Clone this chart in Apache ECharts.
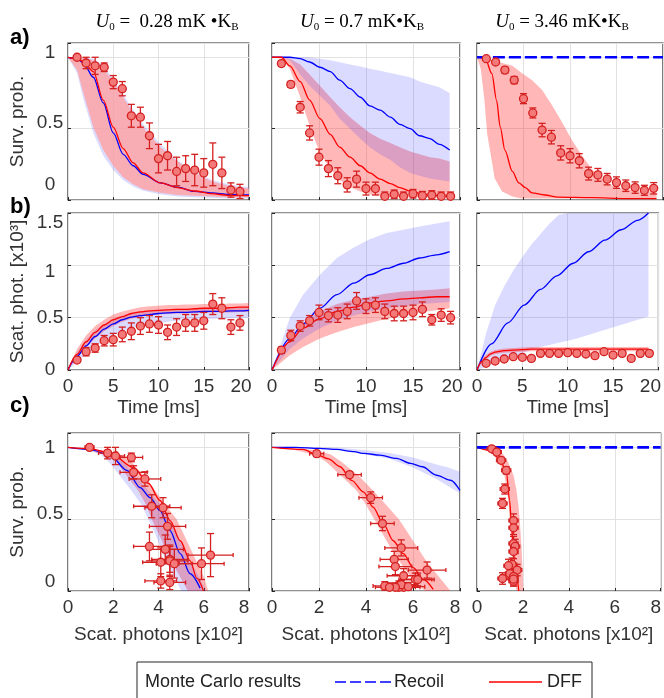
<!DOCTYPE html>
<html>
<head>
<meta charset="utf-8">
<script src="https://cdn.jsdelivr.net/npm/echarts@6/dist/echarts.min.js"></script>
<style>
  html, body { margin: 0; padding: 0; background: #fff; }
  #chart { width: 664px; height: 698px; }
</style>
</head>
<body>
<div id="chart"></div>
<script>
// ---- experimental points (t = 1..19 ms) ----
const ptsT = [1, 2, 3, 4, 5, 6, 7, 8, 9, 10, 11, 12, 13, 14, 15, 16, 17, 18, 19];

// row a: survival probability
const a1Pts = [1.0, 0.96, 0.94, 0.93, 0.826, 0.78, 0.59, 0.58, 0.45, 0.29, 0.31, 0.20, 0.22, 0.21, 0.19, 0.25, 0.19, 0.07, 0.06];
const a1Err = [0.01, 0.04, 0.06, 0.03, 0.046, 0.05, 0.08, 0.07, 0.09, 0.1, 0.1, 0.1, 0.09, 0.11, 0.1, 0.15, 0.11, 0.05, 0.05];
const a2Pts = [0.956, 0.81, 0.65, 0.47, 0.30, 0.22, 0.17, 0.106, 0.146, 0.08, 0.08, 0.026, 0.04, 0.026, 0.044, 0.03, 0.035, 0.026, 0.026];
const a2Err = [0.02, 0.02, 0.04, 0.05, 0.056, 0.056, 0.056, 0.05, 0.056, 0.045, 0.045, 0.03, 0.03, 0.03, 0.03, 0.03, 0.03, 0.03, 0.03];
const a3Pts = [0.99, 0.967, 0.91, 0.84, 0.71, 0.61, 0.49, 0.44, 0.33, 0.31, 0.275, 0.185, 0.176, 0.146, 0.122, 0.1, 0.087, 0.068, 0.082];
const a3Err = [0.01, 0.015, 0.02, 0.025, 0.035, 0.035, 0.047, 0.047, 0.05, 0.05, 0.05, 0.045, 0.045, 0.04, 0.04, 0.04, 0.04, 0.035, 0.04];

// row b: scattered photons [x10^3]
const b1Pts = [0.095, 0.175, 0.21, 0.28, 0.29, 0.34, 0.37, 0.42, 0.44, 0.43, 0.36, 0.41, 0.45, 0.45, 0.47, 0.63, 0.59, 0.41, 0.45];
const b1Err = [0.02, 0.04, 0.04, 0.05, 0.06, 0.07, 0.08, 0.08, 0.08, 0.08, 0.07, 0.08, 0.08, 0.08, 0.08, 0.1, 0.1, 0.07, 0.07];
const b2Pts = [0.19, 0.33, 0.42, 0.47, 0.55, 0.52, 0.525, 0.56, 0.66, 0.61, 0.62, 0.56, 0.54, 0.54, 0.55, 0.58, 0.48, 0.525, 0.50];
const b2Err = [0.03, 0.05, 0.05, 0.05, 0.07, 0.06, 0.07, 0.07, 0.08, 0.07, 0.07, 0.07, 0.07, 0.07, 0.07, 0.07, 0.05, 0.06, 0.06];
const b3Pts = [0.064, 0.086, 0.105, 0.127, 0.121, 0.111, 0.159, 0.159, 0.159, 0.166, 0.159, 0.153, 0.137, 0.175, 0.143, 0.159, 0.111, 0.159, 0.159];
const b3Err = [0.02, 0.02, 0.02, 0.02, 0.02, 0.02, 0.02, 0.02, 0.02, 0.02, 0.02, 0.02, 0.02, 0.02, 0.02, 0.02, 0.02, 0.02, 0.02];

// ---- Monte Carlo, row a ----
const a1T = [0, 1, 1.7, 2.8, 3.9, 5, 6.1, 7.2, 8.3, 10.2, 12.1, 14, 15.9, 17.7, 20];
const a1Dff = [1, 0.99, 0.97, 0.90, 0.70, 0.51, 0.36, 0.26, 0.19, 0.12, 0.087, 0.063, 0.044, 0.033, 0.03];
const a1Recoil = [1, 0.99, 0.96, 0.86, 0.68, 0.47, 0.32, 0.24, 0.18, 0.12, 0.09, 0.06, 0.05, 0.04, 0.035];
const a1DffHi = [1, 1, 0.995, 0.98, 0.92, 0.83, 0.72, 0.61, 0.51, 0.37, 0.27, 0.19, 0.13, 0.10, 0.08];
const a1DffLo = [1, 0.91, 0.75, 0.51, 0.35, 0.24, 0.16, 0.11, 0.075, 0.05, 0.035, 0.03, 0.025, 0.02, 0.02];
const a1RecHi = [1, 1, 1, 0.99, 0.94, 0.85, 0.74, 0.63, 0.53, 0.39, 0.28, 0.2, 0.14, 0.11, 0.09];
const a1RecLo = [1, 0.89, 0.71, 0.47, 0.31, 0.21, 0.14, 0.095, 0.065, 0.04, 0.025, 0.02, 0.015, 0.01, 0.01];

const a2T = [0, 1, 1.9, 3, 4, 5.1, 6.2, 7.2, 8.3, 9.4, 10.4, 11.5, 12.6, 13.6, 14.7, 15.7, 16.8, 17.8, 18.9];
const a2Dff = [1, 1, 0.94, 0.83, 0.70, 0.57, 0.46, 0.37, 0.30, 0.24, 0.19, 0.146, 0.115, 0.087, 0.063, 0.047, 0.035, 0.03, 0.025];
const a2Recoil = [1, 1, 1, 0.99, 0.967, 0.93, 0.90, 0.84, 0.78, 0.72, 0.66, 0.63, 0.58, 0.53, 0.50, 0.45, 0.43, 0.39, 0.35];
const a2RecHi = [1, 1, 1, 1, 1, 0.99, 0.98, 0.965, 0.95, 0.935, 0.92, 0.905, 0.89, 0.875, 0.86, 0.83, 0.81, 0.79, 0.75];
const a2RecLo = [1, 1, 0.98, 0.88, 0.80, 0.73, 0.66, 0.57, 0.50, 0.43, 0.37, 0.32, 0.28, 0.23, 0.19, 0.17, 0.15, 0.14, 0.13];
const a2DffHi = [1, 1, 0.99, 0.95, 0.88, 0.80, 0.72, 0.65, 0.58, 0.52, 0.47, 0.43, 0.40, 0.37, 0.34, 0.32, 0.30, 0.29, 0.27];
const a2DffLo = [1, 0.99, 0.92, 0.72, 0.52, 0.33, 0.22, 0.14, 0.09, 0.06, 0.04, 0.03, 0.02, 0.02, 0.02, 0.02, 0.02, 0.02, 0.02];

const a3T = [0, 0.2, 0.9, 1.6, 2.1, 2.5, 3.0, 3.8, 4.5, 5.2, 5.9, 7.3, 8.7, 12.3, 16, 19.3];
const a3Dff = [1, 1, 0.99, 0.885, 0.70, 0.51, 0.35, 0.2, 0.12, 0.087, 0.05, 0.035, 0.02, 0.016, 0.01, 0.01];
const a3BandT = [0, 0.4, 0.8, 1.1, 1.6, 1.9, 2.7, 3.8, 4.8, 5.9, 7.0, 8.0, 9.1, 10.2, 11.3, 12.3, 13.4, 14.5, 15.6, 16.6, 17.7, 18.8, 19.3];
const a3DffHi = [1, 1, 1, 1, 0.98, 0.975, 0.96, 0.94, 0.89, 0.84, 0.77, 0.67, 0.55, 0.42, 0.31, 0.22, 0.15, 0.10, 0.08, 0.07, 0.06, 0.06, 0.06];
const a3DffLo = [1, 0.92, 0.70, 0.46, 0.27, 0.15, 0.06, 0.025, 0.01, 0.01, 0.01, 0.01, 0.01, 0.01, 0.01, 0.01, 0.01, 0.01, 0.01, 0.01, 0.01, 0.01, 0.01];
const flatT = [0, 20];
const flatOne = [1, 1];

// ---- Monte Carlo, row b ----
const b1T = [0, 1, 2, 3, 4, 5, 6, 7, 8, 9, 10, 11, 12, 13, 14, 15, 16, 17, 18, 19, 20];
const b1Dff = [0, 0.15, 0.27, 0.36, 0.43, 0.48, 0.51, 0.54, 0.555, 0.565, 0.57, 0.575, 0.58, 0.58, 0.585, 0.59, 0.59, 0.59, 0.595, 0.6, 0.6];
const b1Recoil = [0, 0.13, 0.23, 0.32, 0.39, 0.44, 0.48, 0.505, 0.52, 0.53, 0.54, 0.545, 0.55, 0.55, 0.555, 0.56, 0.56, 0.56, 0.565, 0.565, 0.57];
const b1DffHi = [0, 0.2, 0.33, 0.42, 0.48, 0.53, 0.56, 0.58, 0.6, 0.61, 0.615, 0.62, 0.62, 0.625, 0.625, 0.63, 0.63, 0.63, 0.635, 0.635, 0.64];
const b1DffLo = [0, 0.12, 0.22, 0.3, 0.37, 0.42, 0.46, 0.49, 0.51, 0.52, 0.53, 0.535, 0.54, 0.54, 0.545, 0.545, 0.55, 0.55, 0.55, 0.555, 0.555];
const b1RecHi = [0, 0.17, 0.29, 0.38, 0.44, 0.49, 0.52, 0.545, 0.56, 0.57, 0.575, 0.58, 0.58, 0.585, 0.585, 0.59, 0.59, 0.59, 0.595, 0.595, 0.6];
const b1RecLo = [0, 0.08, 0.15, 0.22, 0.28, 0.33, 0.37, 0.40, 0.42, 0.44, 0.45, 0.46, 0.47, 0.475, 0.48, 0.485, 0.49, 0.49, 0.495, 0.5, 0.5];

const b2T = [0, 1.9, 3.3, 5.1, 6.9, 8.7, 10.4, 12.2, 14, 15.7, 17.5, 18.9];
const b2Dff = [0, 0.27, 0.40, 0.49, 0.56, 0.60, 0.64, 0.66, 0.68, 0.69, 0.70, 0.70];
const b2Recoil = [0, 0.30, 0.44, 0.59, 0.72, 0.83, 0.91, 0.97, 1.02, 1.07, 1.10, 1.13];
const b2RecHi = [0, 0.5, 0.72, 0.91, 1.07, 1.17, 1.25, 1.31, 1.34, 1.37, 1.40, 1.42];
const b2RecLo = [0, 0.2, 0.3, 0.4, 0.47, 0.52, 0.56, 0.59, 0.61, 0.63, 0.64, 0.65];
const b2DffHi = [0, 0.30, 0.45, 0.56, 0.63, 0.67, 0.70, 0.73, 0.75, 0.76, 0.77, 0.78];
const b2DffLo = [0, 0.14, 0.22, 0.3, 0.36, 0.41, 0.45, 0.49, 0.52, 0.55, 0.57, 0.59];

const b3T = [0, 1.6, 3.4, 5.2, 7.0, 8.8, 10.6, 12.3, 14.1, 15.9, 17.7, 18.9];
const b3Recoil = [0, 0.25, 0.45, 0.62, 0.77, 0.9, 1.02, 1.13, 1.24, 1.34, 1.43, 1.5];
const b3BandT = [0, 1, 2, 3, 4, 5, 6, 7, 8, 9, 10, 11, 18.9];
const b3RecHi = [0, 0.35, 0.62, 0.8, 0.95, 1.08, 1.2, 1.3, 1.4, 1.48, 1.57, 1.65, 2.3];
const b3RecLo = [0, 0.03, 0.07, 0.1, 0.13, 0.16, 0.19, 0.22, 0.24, 0.26, 0.28, 0.30, 0.51];
const b3DffT = [0, 0.5, 1, 1.5, 2, 3, 4, 5, 6, 18.9];
const b3Dff = [0, 0.08, 0.12, 0.155, 0.17, 0.185, 0.19, 0.195, 0.2, 0.2];
const b3DffHi = [0, 0.1, 0.145, 0.175, 0.19, 0.205, 0.21, 0.215, 0.22, 0.22];
const b3DffLo = [0, 0.06, 0.1, 0.135, 0.15, 0.165, 0.17, 0.175, 0.18, 0.18];

// ---- Monte Carlo, row c (survival vs scattered photons [x10^2]) ----
const cLevels = [1.0, 0.98, 0.95, 0.9, 0.8, 0.7, 0.6, 0.5, 0.4, 0.3, 0.2, 0.1, 0.0];
const c1RecoilX = [0, 0.97, 1.86, 2.6, 3.19, 3.63, 4.07, 4.51, 4.96, 5.4, 5.84];
const c1RecoilY = [1, 0.986, 0.946, 0.84, 0.72, 0.65, 0.56, 0.42, 0.26, 0.12, 0.02];
const c1DffX = [0, 1.0, 1.86, 2.89, 3.55, 4.07, 4.51, 4.96, 5.4, 5.69, 5.99];
const c1DffY = [1, 0.99, 0.96, 0.86, 0.75, 0.63, 0.49, 0.35, 0.21, 0.09, 0];
const c1RecLo = [0, 0.9, 1.45, 1.8, 2.3, 2.8, 3.25, 3.55, 3.85, 4.1, 4.35, 4.7, 5.0];
const c1RecHi = [0.3, 1.5, 2.1, 2.45, 3.0, 3.55, 4.1, 4.5, 4.8, 5.1, 5.4, 5.8, 6.1];
const c1DffLo = [0, 0.9, 1.6, 2.15, 2.6, 3.1, 3.45, 3.7, 4.0, 4.3, 4.6, 4.95, 5.3];
const c1DffHi = [0.3, 1.5, 2.3, 2.8, 3.35, 3.85, 4.3, 4.8, 5.1, 5.4, 5.7, 6.0, 6.2];

const c2RecoilX = [0, 1, 2, 2.75, 3.5, 3.9, 4.6, 5.3, 5.9, 6.4, 7.0, 7.6, 8.0];
const c2RecoilY = [1, 1, 0.993, 0.986, 0.97, 0.958, 0.946, 0.923, 0.888, 0.865, 0.806, 0.771, 0.70];
const c2BandX = [0, 2, 3, 4, 5, 6, 7, 7.5, 8];
const c2RecLo = [1, 0.99, 0.98, 0.95, 0.92, 0.86, 0.78, 0.73, 0.68];
const c2RecHi = [1, 1.0, 0.995, 0.98, 0.96, 0.93, 0.88, 0.86, 0.83];
const c2DffX = [0, 1.33, 1.9, 2.4, 2.9, 3.39, 3.89, 4.3, 4.74, 5.16, 5.59, 6.01, 6.44, 6.86];
const c2DffY = [1, 0.986, 0.95, 0.92, 0.865, 0.77, 0.69, 0.584, 0.467, 0.35, 0.26, 0.163, 0.08, 0.012];
const c2DffLo = [0, 1.0, 1.8, 2.3, 2.95, 3.6, 4.0, 4.35, 4.7, 5.05, 5.45, 5.9, 6.5];
const c2DffHi = [0.5, 1.9, 2.5, 2.95, 3.7, 4.3, 4.85, 5.4, 5.8, 6.2, 6.6, 7.1, 7.6];

const c3DffX = [0, 0.56, 0.99, 1.28, 1.42, 1.49, 1.56, 1.63, 1.73, 1.82];
const c3DffY = [1, 0.98, 0.92, 0.83, 0.63, 0.49, 0.35, 0.21, 0.09, 0.0];
const c3DffLo = [0, 0.4, 0.7, 0.95, 1.2, 1.3, 1.38, 1.42, 1.47, 1.52, 1.57, 1.64, 1.72];
const c3DffHi = [0.6, 0.95, 1.15, 1.35, 1.6, 1.72, 1.8, 1.86, 1.9, 1.94, 1.97, 2.0, 2.02];
const flatX = [0, 8];

// ---- styling ----
const FONT = 'Liberation Sans, Arial, sans-serif';
const TXT = '#333';
const BLUE = '#0000ff', RED = '#ff0000', ERR = '#d42020', MARK = '#f47a7a';
const BLUE_BAND = 'rgba(40,40,255,0.17)';
const RED_BAND = 'rgba(255,30,30,0.32)';
const RED_BAND_TOP = 'rgba(255,160,160,0.8)';

const colLeft = [68, 272, 477], colWidth = [181, 188, 186];
const rowTop = [43, 213, 433], rowHeight = [157, 157, 158];

const chart = echarts.init(document.getElementById('chart'));
const series = [];

function clampPts(pts, r) {
  return pts.map(p => [Math.min(Math.max(p[0], r.x), r.x + r.width), Math.min(Math.max(p[1], r.y), r.y + r.height)]);
}
function band(g, pts, color) {
  series.push({
    type: 'custom', xAxisIndex: g, yAxisIndex: g, silent: true, clip: true, z: 1,
    data: pts,
    renderItem: (params, api) => {
      if (params.dataIndex !== 0) return null;
      const poly = clampPts(pts.map(p => api.coord(p)), params.coordSys);
      return { type: 'polygon', shape: { points: poly }, style: { fill: color } };
    }
  });
}
function bandT(g, t, lo, hi, color) {
  band(g, t.map((x, i) => [x, lo[i]]).concat(t.map((x, i) => [x, hi[i]]).reverse()), color);
}
function bandY(g, lv, xlo, xhi, color) {
  band(g, lv.map((y, i) => [xlo[i], y]).concat(lv.map((y, i) => [xhi[i], y]).reverse()), color);
}
function curve(g, xs, ys, color, dashed) {
  series.push({
    type: 'line', xAxisIndex: g, yAxisIndex: g, silent: true, z: 3,
    data: xs.map((x, i) => [x, ys[i]]),
    symbol: 'none', smooth: 0.3, smoothMonotone: 'x',
    lineStyle: dashed ? { color, width: 2.6, type: [12, 4] } : { color, width: 1.3 }
  });
}
function seg(x1, y1, x2, y2) {
  return { type: 'line', shape: { x1, y1, x2, y2 }, style: { stroke: ERR, lineWidth: 1.3 } };
}
function points(g, xs, ys, ey, ex) {
  series.push({
    type: 'custom', xAxisIndex: g, yAxisIndex: g, silent: true, clip: true, z: 4,
    encode: { x: 0, y: 1 },
    data: xs.map((x, i) => [x, ys[i], ey ? ey[i] : 0, ex ? ex[i] : 0]),
    renderItem: (params, api) => {
      const x = api.value(0), y = api.value(1), dy = api.value(2), dx = api.value(3);
      const ch = [];
      if (dy > 0) {
        const a = api.coord([x, y - dy]), b = api.coord([x, y + dy]);
        ch.push(seg(a[0], a[1], b[0], b[1]), seg(a[0] - 3.5, a[1], a[0] + 3.5, a[1]), seg(b[0] - 3.5, b[1], b[0] + 3.5, b[1]));
      }
      if (dx > 0) {
        const a = api.coord([x - dx, y]), b = api.coord([x + dx, y]);
        ch.push(seg(a[0], a[1], b[0], b[1]), seg(a[0], a[1] - 2, a[0], a[1] + 2), seg(b[0], b[1] - 2, b[0], b[1] + 2));
      }
      return { type: 'group', children: ch };
    }
  });
  series.push({
    type: 'scatter', xAxisIndex: g, yAxisIndex: g, silent: true, z: 5,
    data: xs.map((x, i) => [x, ys[i]]),
    symbol: 'circle', symbolSize: 8,
    itemStyle: { color: MARK, borderColor: ERR, borderWidth: 1.3, opacity: 1 }
  });
}

// row a
bandT(0, a1T, a1RecLo, a1RecHi, BLUE_BAND);
bandT(0, a1T, a1DffLo, a1DffHi, RED_BAND_TOP);
curve(0, a1T, a1Recoil, BLUE);
curve(0, a1T, a1Dff, RED);
points(0, ptsT, a1Pts, a1Err);

bandT(1, a2T, a2DffLo, a2DffHi, RED_BAND);
bandT(1, a2T, a2RecLo, a2RecHi, BLUE_BAND);
curve(1, a2T, a2Recoil, BLUE);
curve(1, a2T, a2Dff, RED);
points(1, ptsT, a2Pts, a2Err);

bandT(2, a3BandT, a3DffLo, a3DffHi, RED_BAND);
curve(2, a3T, a3Dff, RED);
curve(2, flatT, flatOne, BLUE, true);
points(2, ptsT, a3Pts, a3Err);

// row b
bandT(3, b1T, b1RecLo, b1RecHi, BLUE_BAND);
bandT(3, b1T, b1DffLo, b1DffHi, RED_BAND);
curve(3, b1T, b1Recoil, BLUE);
curve(3, b1T, b1Dff, RED);
points(3, ptsT, b1Pts, b1Err);

bandT(4, b2T, b2DffLo, b2DffHi, RED_BAND);
bandT(4, b2T, b2RecLo, b2RecHi, BLUE_BAND);
curve(4, b2T, b2Recoil, BLUE);
curve(4, b2T, b2Dff, RED);
points(4, ptsT, b2Pts, b2Err);

bandT(5, b3BandT, b3RecLo, b3RecHi, BLUE_BAND);
bandT(5, b3DffT, b3DffLo, b3DffHi, RED_BAND);
curve(5, b3T, b3Recoil, BLUE);
curve(5, b3DffT, b3Dff, RED);
points(5, ptsT, b3Pts, b3Err);

// row c: survival vs scattered photons, same measurements as rows a and b
const x10 = arr => arr.map(v => v * 10);
bandY(6, cLevels, c1DffLo, c1DffHi, RED_BAND);
bandY(6, cLevels, c1RecLo, c1RecHi, BLUE_BAND);
curve(6, c1RecoilX, c1RecoilY, BLUE);
curve(6, c1DffX, c1DffY, RED);
points(6, x10(b1Pts), a1Pts, a1Err, x10(b1Err));

bandY(7, cLevels, c2DffLo, c2DffHi, RED_BAND);
bandT(7, c2BandX, c2RecLo, c2RecHi, BLUE_BAND);
curve(7, c2RecoilX, c2RecoilY, BLUE);
curve(7, c2DffX, c2DffY, RED);
points(7, x10(b2Pts), a2Pts, a2Err, x10(b2Err));

bandY(8, cLevels, c3DffLo, c3DffHi, RED_BAND);
curve(8, c3DffX, c3DffY, RED);
curve(8, flatX, flatOne, BLUE, true);
points(8, x10(b3Pts), a3Pts, a3Err, x10(b3Err));

// ---- grids and axes ----
const grids = [], xAxes = [], yAxes = [];
const labelStyle = { color: TXT, fontSize: 19, fontFamily: FONT };
// small vertical nudges of the y tick labels, as placed in the original figure
const nudge = (up, down) => ({ ...labelStyle, padding: [down * 2, 0, up * 2, 0] });
const yRich = { u5: nudge(5, 0), u6: nudge(6, 0), u9: nudge(9, 0), u15: nudge(15, 0), d6: nudge(0, 6), d10: nudge(0, 10) };
const yNudges = [
  { 0: 'u15', 0.5: 'u6', 1: 'u5' },
  { 0: '', 0.5: '', 1: 'd6', 1.5: 'd10' },
  { 0: 'u9', 0.5: 'u5', 1: '' }
];
for (let r = 0; r < 3; r++) {
  for (let c = 0; c < 3; c++) {
    const g = r * 3 + c;
    grids.push({ left: colLeft[c], top: rowTop[r], width: colWidth[c], height: rowHeight[r],
      show: true, borderColor: '#262626', borderWidth: 1.2, backgroundColor: 'transparent' });
    const photons = r === 2;
    xAxes.push({
      gridIndex: g, type: 'value', min: 0, max: photons ? 8 : 20, interval: photons ? 2 : 5,
      axisLine: { show: false },
      axisTick: { show: true, inside: true, length: 3, lineStyle: { color: '#262626' } },
      splitLine: { show: true, lineStyle: { color: '#e2e2e2', width: 1 } },
      axisLabel: {
        show: r > 0, margin: 7, ...labelStyle,
        formatter: v => (v === 20 ? '{e|20}' : v === 8 ? '{f|8}' : String(v)),
        rich: { e: { ...labelStyle, padding: [0, 16, 0, 0] }, f: { ...labelStyle, padding: [0, 10, 0, 0] } }
      },
      name: r === 1 ? 'Time [ms]' : (r === 2 ? 'Scat. photons [x10²]' : ''),
      nameLocation: 'middle', nameGap: r === 1 ? 28 : 34,
      nameTextStyle: { color: TXT, fontSize: 19, fontFamily: FONT }
    });
    const surv = r !== 1;
    const nd = yNudges[r];
    yAxes.push({
      gridIndex: g, type: 'value', min: 0, max: surv ? 1.1 : 1.5, interval: 0.5,
      axisLine: { show: false },
      axisTick: { show: true, inside: true, length: 3, lineStyle: { color: '#262626' } },
      splitLine: { show: true, lineStyle: { color: '#e2e2e2', width: 1 } },
      axisLabel: {
        show: c === 0, margin: 18, align: 'center', ...labelStyle,
        formatter: v => {
          if (surv && v > 1.05) return '';
          const k = nd[v];
          return k ? '{' + k + '|' + v + '}' : String(v);
        },
        rich: yRich
      },
      name: c === 0 ? (r === 1 ? 'Scat. phot. [x10³]' : 'Surv. prob.') : '',
      nameLocation: 'middle', nameGap: 41,
      nameTextStyle: { color: TXT, fontSize: 19, fontFamily: FONT }
    });
  }
}

// ---- titles, panel letters, legend ----
const SERIF = 'Liberation Serif, Times New Roman, serif';
const titleRich = {
  u: { fontFamily: SERIF, fontStyle: 'italic', fontSize: 19, color: TXT, lineHeight: 22 },
  n: { fontFamily: SERIF, fontSize: 19, color: TXT, lineHeight: 22 },
  s: { fontFamily: SERIF, fontSize: 11, color: TXT, lineHeight: 10, verticalAlign: 'bottom' }
};
const titleTexts = ['{u|U}{s|0}{n| =  0.28 mK •K}{s|B}', '{u|U}{s|0}{n| = 0.7 mK•K}{s|B}', '{u|U}{s|0}{n| = 3.46 mK•K}{s|B}'];
const titleX = [167, 362, 562];
const graphic = titleTexts.map((t, i) => ({
  type: 'text', x: titleX[i], y: 22,
  style: { text: t, rich: titleRich, align: 'center', verticalAlign: 'middle' }
}));
[['a)', 38], ['b)', 207], ['c)', 406]].forEach(([t, y]) => {
  graphic.push({ type: 'text', x: 10, y, style: { text: t, font: 'bold 22px ' + FONT, fill: '#000', verticalAlign: 'middle' } });
});
graphic.push(
  { type: 'rect', shape: { x: 137, y: 662, width: 455, height: 60 }, style: { fill: '#fff', stroke: '#262626', lineWidth: 1 } },
  { type: 'text', x: 145, y: 682, style: { text: 'Monte Carlo results', font: '18px ' + FONT, fill: '#222', verticalAlign: 'middle' } },
  { type: 'line', shape: { x1: 335, y1: 682, x2: 391, y2: 682 }, style: { stroke: BLUE, lineWidth: 1.5, lineDash: [11, 4] } },
  { type: 'text', x: 394, y: 682, style: { text: 'Recoil', font: '18px ' + FONT, fill: '#222', verticalAlign: 'middle' } },
  { type: 'line', shape: { x1: 489, y1: 682, x2: 542, y2: 682 }, style: { stroke: RED, lineWidth: 1.5 } },
  { type: 'text', x: 547, y: 682, style: { text: 'DFF', font: '18px ' + FONT, fill: '#222', verticalAlign: 'middle' } }
);

chart.setOption({
  animation: false,
  backgroundColor: '#fff',
  grid: grids,
  xAxis: xAxes,
  yAxis: yAxes,
  series,
  graphic
});
</script>
</body>
</html>
